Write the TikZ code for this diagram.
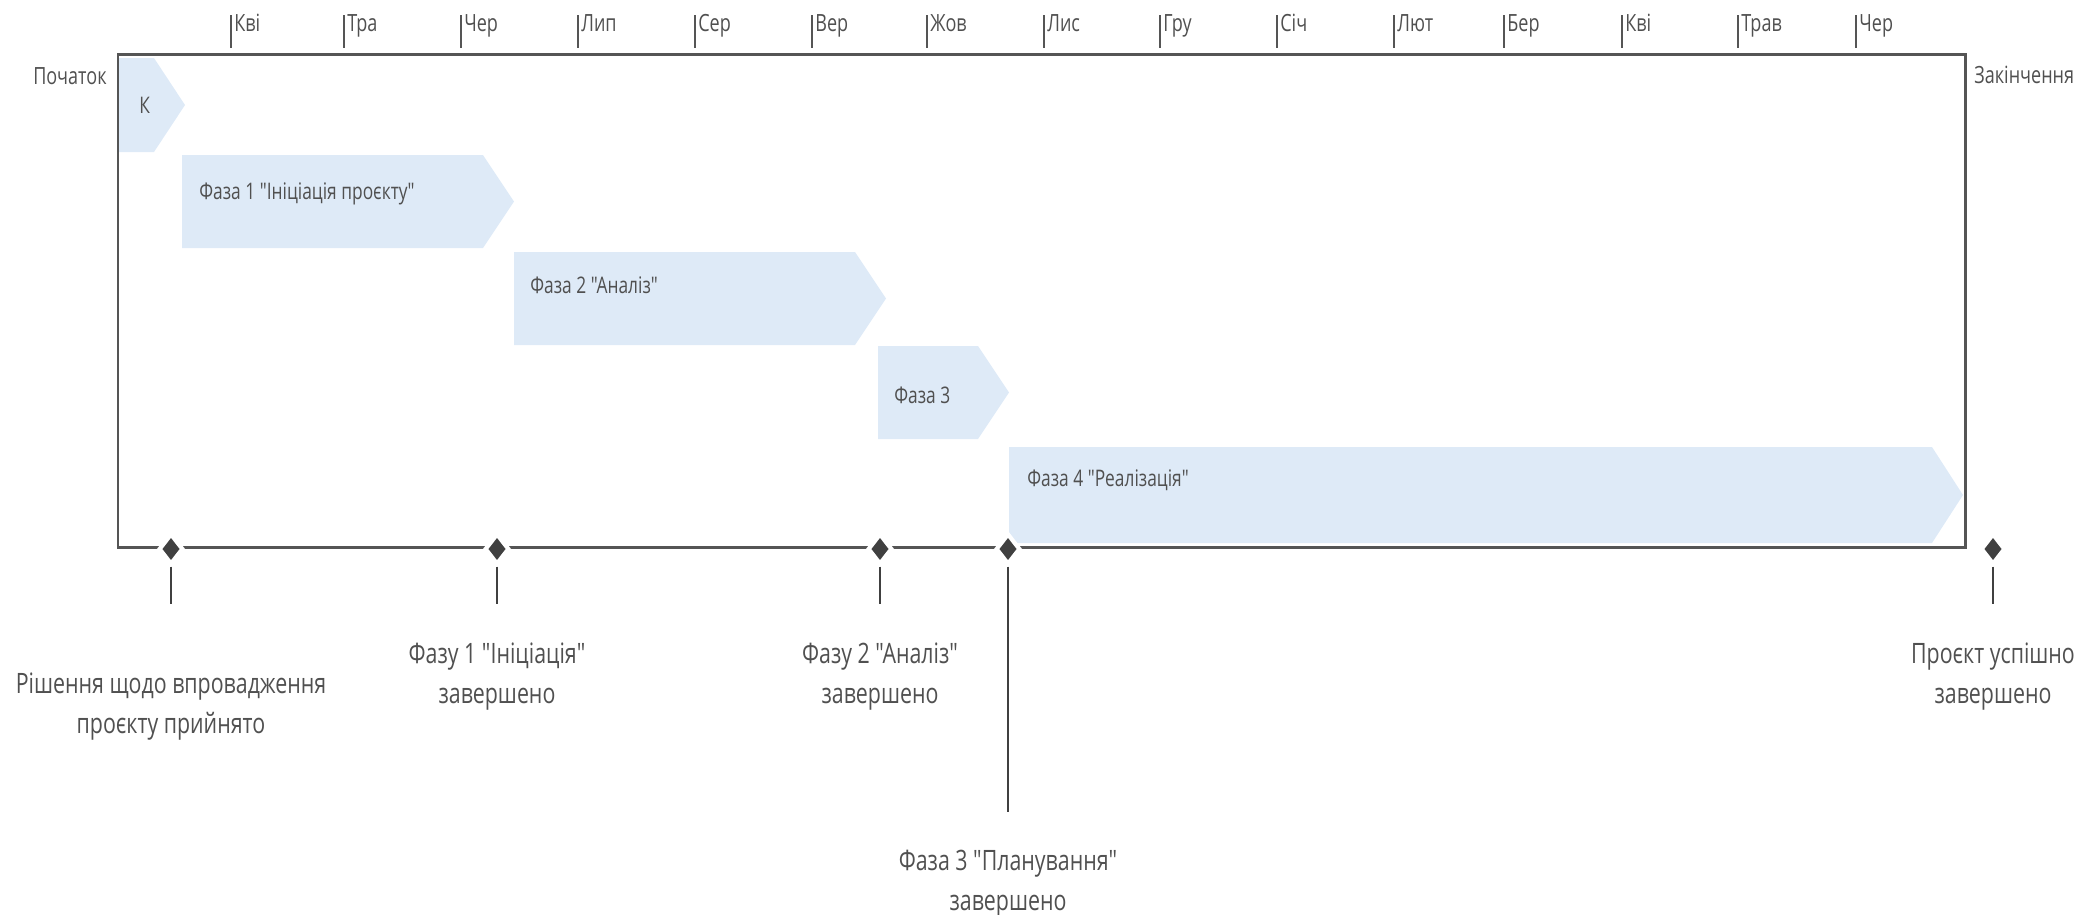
\documentclass[tikz,border=0pt]{standalone}
\usepackage{fontspec}
\setmainfont[FakeStretch=0.76, Ligatures=TeXOff]{Open Sans}
\usepackage{tikz}
\usetikzlibrary{shapes.geometric}

\definecolor{framegray}{RGB}{85,85,85}
\definecolor{phaseblue}{RGB}{222,234,247}
\definecolor{textgray}{RGB}{80,80,80}
\definecolor{msgray}{RGB}{64,64,64}

\tikzset{
  frameline/.style={framegray, line width=1.7pt},
  month/.style={anchor=north west, inner sep=0pt, text=textgray, font=\fontsize{13.5}{16}\selectfont},
  phase/.style={fill=phaseblue},
  phasetext/.style={anchor=west, inner sep=0pt, text=textgray, font=\fontsize{13}{15}\selectfont},
  milestone/.style={diamond, fill=msgray, draw=white, line width=2.4pt, inner sep=0pt,
    minimum width=0.49cm, minimum height=0.62cm},
  stem/.style={msgray, line width=1.3pt},
  mslabel/.style={anchor=north, align=center, inner sep=0pt, text=textgray, font=\fontsize{16}{22.5}\selectfont},
  endlabel/.style={inner sep=0pt, text=textgray, font=\fontsize{13.5}{16}\selectfont}
}

\begin{document}
\begin{tikzpicture}[x=0.02cm, y=-0.02cm]
  \useasboundingbox (0,0) rectangle (2080,914);
  % Month ticks above the frame
  \foreach \x/\m [count=\i] in {231/Кві, 344/Тра, 461/Чер, 578/Лип, 695/Сер, 812/Вер, 927/Жов,
      1044/Лис, 1160/Гру, 1277/Січ, 1394/Лют, 1504/Бер, 1622/Кві, 1738/Трав, 1856/Чер} {
    \draw[framegray, line width=1.2pt] (\x,15) -- (\x,48);
    \node[month] (mon\i) at (\x+3,14) {\m};
  }
  % Phase bars
  \foreach \xa/\xp/\ya/\yb/\tx/\ty/\lab [count=\i from 0] in {
      118/185/58/152/139/105/К,
      182/514/155/248/199/194/{Фаза 1 "Ініціація проєкту"},
      514/886/252/345/530/285/{Фаза 2 "Аналіз"},
      878/1009/346/439/894/395/{Фаза 3},
      1009/1963/447/543/1027/480/{Фаза 4 "Реалізація"}} {
    \fill[phase] (\xa,\ya) -- (\xp-31,\ya) -- (\xp,{(\ya+\yb)/2}) -- (\xp-31,\yb) -- (\xa,\yb) -- cycle;
    \node[phasetext] (ph\i) at (\tx,\ty) {\lab};
  }
  % Frame and time line
  \draw[frameline] (118,547) -- (118,54) -- (1965,54) -- (1965,547) -- cycle;
  % Start and end labels
  \node[endlabel, anchor=east] (start) at (107,76) {Початок};
  \node[endlabel, anchor=west] (finish) at (1974,75) {Закінчення};
  % Milestones with their labels
  \foreach \x/\ye/\ly/\lab [count=\i] in {
      171/604/673/{Рішення щодо впровадження\\проєкту прийнято},
      497/604/643/{Фазу 1 "Ініціація"\\завершено},
      880/604/643/{Фазу 2 "Аналіз"\\завершено},
      1008/812/850/{Фаза 3 "Планування"\\завершено},
      1993/604/643/{Проєкт успішно\\завершено}} {
    \node[milestone] (ms\i) at (\x,549) {};
    \coordinate (st\i) at (\x,\ye);
    \draw[stem] (ms\i.south) -- (st\i);
    \node[mslabel] (lab\i) at (\x,\ly) {\lab};
  }
\end{tikzpicture}
\end{document}
